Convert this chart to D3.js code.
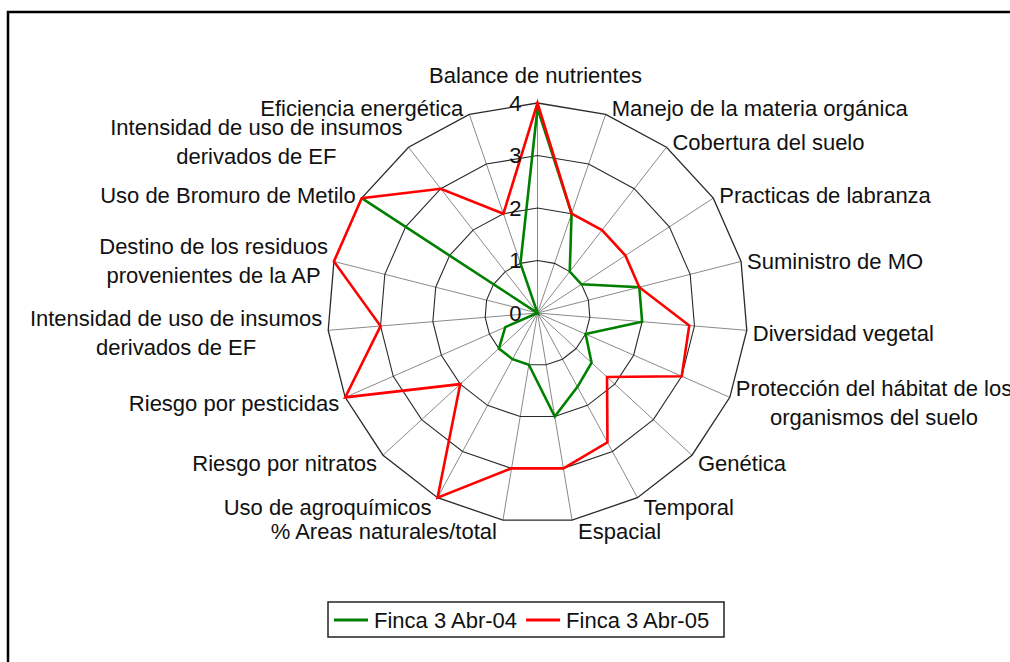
<!DOCTYPE html>
<html>
<head>
<meta charset="utf-8">
<script src="https://cdn.jsdelivr.net/npm/d3@7"></script>
<style>
  html, body { margin: 0; padding: 0; background: #fff; }
  svg { display: block; }
  text { font-family: "Liberation Sans", Arial, sans-serif; fill: #111; }
</style>
</head>
<body>
<svg id="chart" width="1010" height="662"></svg>
<script>
// ---- data ----
const categories = [
  ["Balance de nutrientes"],
  ["Manejo de la materia orgánica"],
  ["Cobertura del suelo"],
  ["Practicas de labranza"],
  ["Suministro de MO"],
  ["Diversidad vegetal"],
  ["Protección del hábitat de los", "organismos del suelo"],
  ["Genética"],
  ["Temporal"],
  ["Espacial"],
  ["% Areas naturales/total"],
  ["Uso de agroquímicos"],
  ["Riesgo por nitratos"],
  ["Riesgo por pesticidas"],
  ["Intensidad de uso de insumos", "derivados de EF"],
  ["Destino de los residuos", "provenientes de la AP"],
  ["Uso de Bromuro de Metilo"],
  ["Intensidad de uso de insumos", "derivados de EF"],
  ["Eficiencia energética"]
];
const seriesNames = ["Finca 3 Abr-04", "Finca 3 Abr-05"];
const finca3Abr04 = [3.9, 2, 1, 1, 2, 2, 1, 1.4, 1.6, 2, 1, 1, 1, 0.67, 0, 0, 4, 0, 1];
const finca3Abr05 = [4, 2, 2, 2, 2, 2.9, 3, 1.8, 2.8, 3, 3, 4, 2, 4, 3, 4, 4, 3, 2];
const tickValues = [0, 1, 2, 3, 4];
const seriesColors = ["#008000", "#ff0000"];

// ---- layout ----
const svg = d3.select("#chart");
const cx = 537.5, cy = 313, R = 210;
const n = categories.length;
const r = d3.scaleLinear().domain([0, 4]).range([0, R]);
const ang = d3.scaleLinear().domain([0, n]).range([0, 2 * Math.PI]);

// frame
svg.append("rect").attr("x", 8).attr("y", 12).attr("width", 1010).attr("height", 660)
  .attr("fill", "#fff").attr("stroke", "#000").attr("stroke-width", 2.5);

const g = svg.append("g").attr("transform", `translate(${cx},${cy})`);
const idx = d3.range(n);

// spokes
g.selectAll("line.spoke").data(idx).join("line")
  .attr("class", "spoke")
  .attr("x1", 0).attr("y1", 0)
  .attr("x2", i => r(4) * Math.sin(ang(i)))
  .attr("y2", i => -r(4) * Math.cos(ang(i)))
  .attr("stroke", "#8a8a8a").attr("stroke-width", 1);

// rings
const ringLine = d3.lineRadial().angle(i => ang(i)).curve(d3.curveLinearClosed);
g.selectAll("path.ring").data(tickValues.filter(v => v > 0)).join("path")
  .attr("class", "ring")
  .attr("d", v => ringLine.radius(() => r(v))(idx))
  .attr("fill", "none").attr("stroke", "#2a2a2a")
  .attr("stroke-width", v => v === 4 ? 1.3 : 1.1);

// series
const seriesLine = d3.lineRadial()
  .angle((d, i) => ang(i)).radius(d => r(d)).curve(d3.curveLinearClosed);
[finca3Abr04, finca3Abr05].forEach((s, k) => {
  g.append("path").attr("d", seriesLine(s))
    .attr("fill", "none").attr("stroke", seriesColors[k])
    .attr("stroke-width", 2.6).attr("stroke-linejoin", "miter");
});

// tick labels
g.selectAll("text.tick").data(tickValues).join("text")
  .attr("class", "tick")
  .attr("x", -16).attr("y", v => -r(v))
  .attr("dy", "0.35em").attr("text-anchor", "end")
  .attr("font-size", 22).text(v => v);

// category labels
const fs = 22, lh = 29;
categories.forEach((lines, i) => {
  const a = ang(i), s = Math.sin(a), c = Math.cos(a);
  const vx = r(4) * s, vy = -r(4) * c;
  const t = g.append("text").attr("font-size", fs);
  const spans = lines.map(l => t.append("tspan").text(l));
  const widths = spans.map(sp => sp.node().getComputedTextLength());
  const bw = d3.max(widths);
  let left;
  if (Math.abs(s) < 0.05) left = vx - bw / 2 - 2;
  else if (s > 0) left = vx + 6;
  else left = vx - 6 - bw;
  let centerY;
  if (Math.abs(s) < 0.05) centerY = vy - 28;
  else centerY = vy - c * 9 + 2;
  const top = centerY - (lines.length - 1) * lh / 2;
  spans.forEach((sp, j) => {
    sp.attr("x", left + bw / 2).attr("y", top + j * lh).attr("dy", "0.35em");
  });
  t.attr("text-anchor", "middle");
});

// legend
const lg = svg.append("g");
lg.append("rect").attr("x", 328).attr("y", 602).attr("width", 396).attr("height", 35)
  .attr("fill", "#fff").attr("stroke", "#222").attr("stroke-width", 1.5);
let lx = 334;
seriesNames.forEach((name, k) => {
  lg.append("line").attr("x1", lx).attr("x2", lx + 34).attr("y1", 620).attr("y2", 620)
    .attr("stroke", seriesColors[k]).attr("stroke-width", 3);
  const tx = lg.append("text").attr("x", lx + 40).attr("y", 620).attr("dy", "0.35em")
    .attr("font-size", 22).text(name);
  lx += 40 + tx.node().getComputedTextLength() + 9;
});
</script>
</body>
</html>
